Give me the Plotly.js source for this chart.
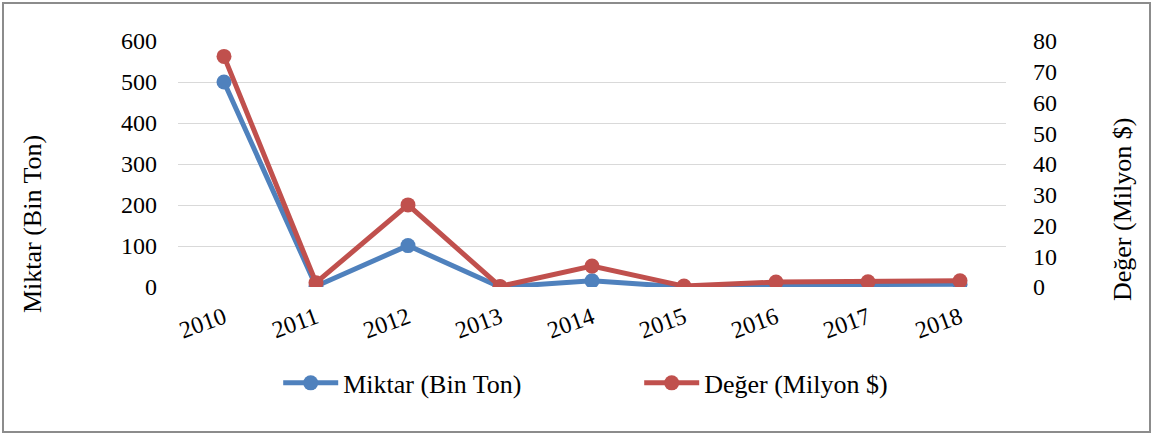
<!DOCTYPE html>
<html>
<head>
<meta charset="utf-8">
<script src="https://cdn.plot.ly/plotly-3.0.1.min.js"></script>
<style>
html,body{margin:0;padding:0;background:#fff;}
#wrap{position:relative;width:1153px;height:435px;}
#chart{position:absolute;left:0;top:0;width:1153px;height:435px;}
#frame{position:absolute;left:2px;top:2px;width:1145px;height:427px;border:2px solid #8c8c8c;pointer-events:none;}
</style>
</head>
<body>
<div id="wrap"><div id="chart"></div><div id="frame"></div></div>
<script>
const years = ['2010','2011','2012','2013','2014','2015','2016','2017','2018'];
const miktar = [500, 2, 101, 0, 15, 0, 5, 6, 7];
const deger = [75, 1.4, 26.7, 0.2, 6.8, 0.3, 1.6, 1.7, 2.0];
const leftTicks = [0, 100, 200, 300, 400, 500, 600];
const rightTicks = [0, 10, 20, 30, 40, 50, 60, 70, 80];
const leftTitle = 'Miktar (Bin Ton)';
const rightTitle = 'Değer (Milyon $)';

const FAM = 'Times New Roman, Liberation Serif, Tinos, DejaVu Serif, serif';
const tickFont = {family: FAM, size: 24, color: '#000'};
const titleFont = {family: FAM, size: 26, color: '#000'};
const legendFont = {family: FAM, size: 26, color: '#000'};

const traces = [
  {x: years, y: miktar, name: leftTitle, type: 'scatter', mode: 'lines+markers',
   line: {color: '#4F81BD', width: 5}, marker: {color: '#4F81BD', size: 15}, yaxis: 'y'},
  {x: years, y: deger, name: rightTitle, type: 'scatter', mode: 'lines+markers',
   line: {color: '#C0504D', width: 5}, marker: {color: '#C0504D', size: 15}, yaxis: 'y2'}
];

const layout = {
  width: 1153, height: 435,
  margin: {l: 178, r: 147, t: 41, b: 148},
  paper_bgcolor: '#fff', plot_bgcolor: '#fff',
  font: {family: FAM, size: 24, color: '#000'},
  showlegend: true,
  legend: {orientation: 'h', x: 0.557, xanchor: 'center', y: -0.39, yanchor: 'middle',
           font: legendFont, entrywidth: 291, entrywidthmode: 'pixels', itemwidth: 55},
  xaxis: {type: 'category', range: [-0.5, 8.5], tickangle: -20, showgrid: false, zeroline: false, showline: false,
          ticks: '', tickfont: tickFont, ticklabelstandoff: 11},
  yaxis: {range: [0, 600], tickvals: leftTicks, ticktext: leftTicks.map(String),
          showgrid: true, gridcolor: '#D9D9D9', gridwidth: 1, zeroline: false, showline: false,
          ticks: '', tickfont: tickFont, ticklabelstandoff: 20},
  yaxis2: {range: [0, 80], tickvals: rightTicks, ticktext: rightTicks.map(String),
           overlaying: 'y', side: 'right', showgrid: false, zeroline: false, showline: false,
           ticks: '', tickfont: tickFont, ticklabelstandoff: 26},
  annotations: [
    {text: leftTitle, xref: 'paper', yref: 'paper', x: -0.1763, y: 0.256, xanchor: 'center', yanchor: 'middle',
     textangle: -90, showarrow: false, font: titleFont},
    {text: rightTitle, xref: 'paper', yref: 'paper', x: 1.1401, y: 0.313, xanchor: 'center', yanchor: 'middle',
     textangle: -90, showarrow: false, font: titleFont}
  ]
};

Plotly.newPlot('chart', traces, layout, {displayModeBar: false, staticPlot: true});
</script>
</body>
</html>
